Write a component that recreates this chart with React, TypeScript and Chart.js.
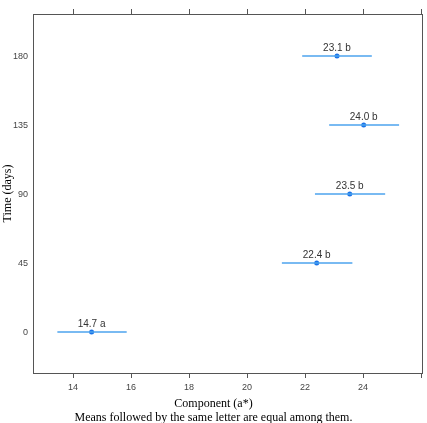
import React, { useEffect, useRef } from "react";
import { Chart, registerables } from "chart.js";

Chart.register(...registerables);

const times = [0, 45, 90, 135, 180];
const means = [14.64, 22.4, 23.54, 24.02, 23.1];
const meanLabels = ["14.7", "22.4", "23.5", "24.0", "23.1"];
const letters = ["a", "b", "b", "b", "b"];
const lows = [13.46, 21.2, 22.34, 22.83, 21.9];
const highs = [15.85, 23.63, 24.76, 25.24, 24.3];
const xTicks = [14, 16, 18, 20, 22, 24, 26];
const yTicks = [0, 45, 90, 135, 180];
const xTitle = "Component (a*)";
const yTitle = "Time (days)";
const caption = "Means followed by the same letter are equal among them.";

export default function App() {
  const ref = useRef<HTMLCanvasElement>(null);
  useEffect(() => {
    document.body.style.margin = "0";
    const canvas = ref.current!;
    const lineSets = times.map((t, i) => ({
      type: "line" as const,
      data: [
        { x: lows[i], y: t },
        { x: highs[i], y: t },
      ],
      borderColor: "#4da3ee",
      borderWidth: 1.5,
      pointRadius: 0,
      showLine: true,
      fill: false,
    }));
    const textPlugin = {
      id: "texts",
      afterDatasetsDraw(chart: any) {
        const ctx = chart.ctx;
        const a = chart.chartArea;
        ctx.save();
        ctx.strokeStyle = "#555";
        ctx.lineWidth = 1;
        ctx.strokeRect(Math.round(a.left) + 0.5, Math.round(a.top) + 0.5, Math.round(a.right - a.left), Math.round(a.bottom - a.top));
        const meta = chart.getDatasetMeta(chart.data.datasets.length - 1);
        ctx.fillStyle = "#333";
        ctx.font = "10px 'Liberation Sans', Arial, sans-serif";
        ctx.textAlign = "center";
        ctx.textBaseline = "alphabetic";
        meta.data.forEach((el: any, i: number) => {
          ctx.fillText(meanLabels[i] + " " + letters[i], el.x, el.y - 5);
        });
        ctx.fillStyle = "#000";
        ctx.font = "12px 'Liberation Serif', 'Times New Roman', serif";
        const cx = chart.width / 2;
        ctx.fillText(xTitle, cx, 407);
        ctx.fillText(caption, cx, 421);
        ctx.translate(11, (a.top + a.bottom) / 2);
        ctx.rotate(-Math.PI / 2);
        ctx.fillText(yTitle, 0, 0);
        ctx.restore();
      },
    };
    const chart = new Chart(canvas, {
      type: "scatter",
      data: {
        datasets: [
          ...lineSets,
          {
            type: "scatter" as const,
            data: times.map((t, i) => ({ x: means[i], y: t })),
            backgroundColor: "#1a73e8",
            borderColor: "#1a73e8",
            pointRadius: 2.5,
            borderWidth: 0,
          },
        ] as any,
      },
      options: {
        animation: false,
        responsive: false,
        layout: { padding: { left: 0, right: 5, top: 0, bottom: 0 } },
        plugins: { legend: { display: false }, tooltip: { enabled: false } },
        scales: {
          x: {
            type: "linear",
            position: "bottom",
            min: 12.62,
            max: 26.03,
            afterBuildTicks: (s: any) => {
              s.ticks = xTicks.map((v) => ({ value: v }));
            },
            afterFit: (s: any) => {
              s.height = 50;
            },
            grid: { drawOnChartArea: false, tickLength: 5, color: "#555" },
            border: { color: "#555" },
            ticks: {
              color: "#444",
              font: { size: 9, family: "'Liberation Sans', Arial, sans-serif" },
              padding: 4,
              maxRotation: 0,
              autoSkip: false,
              callback: (v: any) => (v === 26 ? "" : String(v)),
            },
          },
          x2: {
            type: "linear",
            position: "top",
            min: 12.62,
            max: 26.03,
            afterBuildTicks: (s: any) => {
              s.ticks = xTicks.map((v) => ({ value: v }));
            },
            afterFit: (s: any) => {
              s.height = 14;
            },
            grid: { drawOnChartArea: false, tickLength: 5, color: "#555" },
            border: { color: "#555" },
            ticks: { display: false },
          },
          y: {
            type: "linear",
            min: -26.7,
            max: 207.4,
            afterBuildTicks: (s: any) => {
              s.ticks = yTicks.map((v) => ({ value: v }));
            },
            afterFit: (s: any) => {
              s.width = 33;
            },
            grid: { display: false, drawTicks: false, tickLength: 0 },
            border: { color: "#555" },
            ticks: {
              color: "#444",
              font: { size: 9, family: "'Liberation Sans', Arial, sans-serif" },
              padding: 5,
            },
          },
        },
      } as any,
      plugins: [textPlugin],
    });
    return () => chart.destroy();
  }, []);
  return <canvas ref={ref} width={427} height={423} style={{ display: "block" }} />;
}
